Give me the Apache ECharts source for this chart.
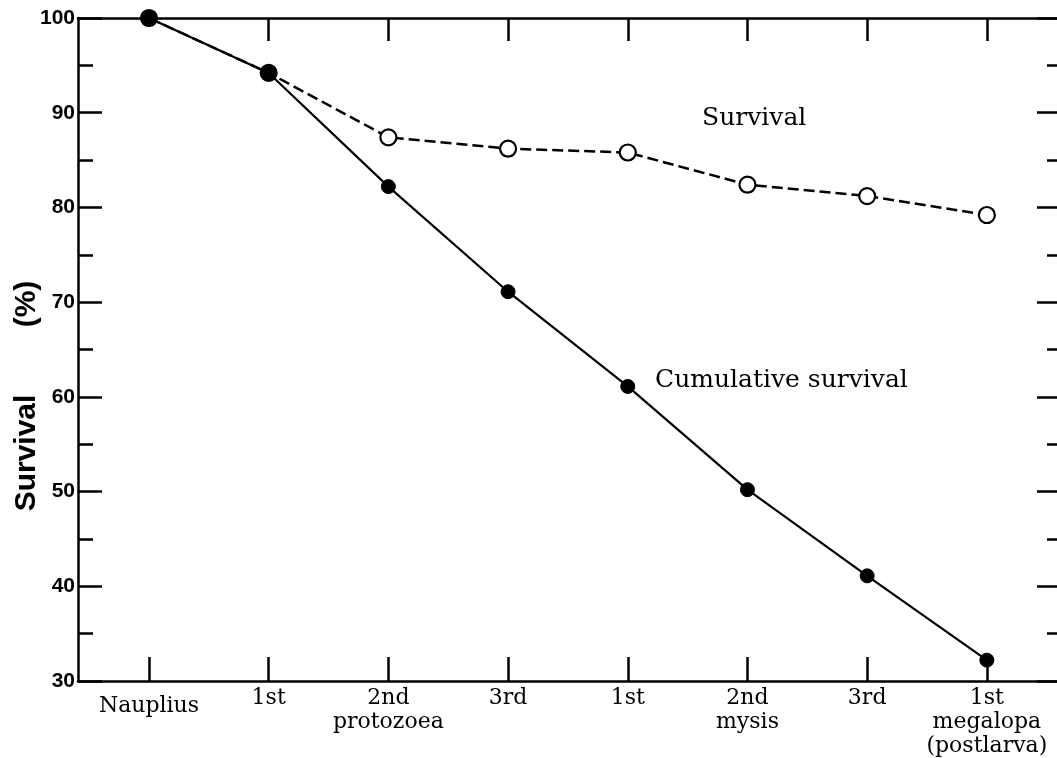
<!DOCTYPE html>
<html>
<head>
<meta charset="utf-8">
<script src="https://cdn.jsdelivr.net/npm/echarts@6/dist/echarts.min.js"></script>
<style>
html,body{margin:0;padding:0;background:#fff;}
#chart{width:1057px;height:758px;}
</style>
</head>
<body>
<div id="chart"></div>
<script>
// ---- data ----
const stages = ["Nauplius", "1st", "2nd\nprotozoea", "3rd", "1st", "2nd\nmysis", "3rd", "1st\nmegalopa\n(postlarva)"];
const stageIndex = [0, 1, 2, 3, 4, 5, 6, 7];
const survival = [100, 94.2, 87.4, 86.2, 85.8, 82.4, 81.2, 79.2];
const cumulativeSurvival = [100, 94.2, 82.2, 71.1, 61.1, 50.2, 41.1, 32.2];
const yTicks = [30, 40, 50, 60, 70, 80, 90, 100];

const XMIN = -0.593, XMAX = 7.586;
const YMIN = yTicks[0], YMAX = yTicks[yTicks.length - 1];
const black = '#000';
const chart = echarts.init(document.getElementById('chart'), null, {renderer: 'canvas'});

const pts = arr => stageIndex.map((x, i) => [x, arr[i]]);

function tickAxis(pos, interval, len, showLine, showLabel) {
  return {
    type: 'value', position: pos, min: YMIN, max: YMAX, interval: interval,
    axisLine: {show: showLine, onZero: false, lineStyle: {color: black, width: 2.5}},
    axisTick: {show: true, inside: true, length: len, lineStyle: {color: black, width: 2.5}},
    minorTick: {show: false},
    axisLabel: {show: showLabel, margin: 3, color: black, fontFamily: 'Liberation Sans', fontWeight: 'bold', fontSize: 21},
    splitLine: {show: false}, minorSplitLine: {show: false}
  };
}

const option = {
  animation: false,
  backgroundColor: '#fff',
  grid: {left: 78, right: 0, top: 18, bottom: 77, containLabel: false},
  xAxis: [
    {
      type: 'value', position: 'bottom', min: XMIN, max: XMAX,
      axisLine: {show: true, onZero: false, lineStyle: {color: black, width: 2.5}},
      axisTick: {show: true, inside: true, length: 24, customValues: stageIndex, lineStyle: {color: black, width: 2.5}},
      axisLabel: {
        show: true, customValues: stageIndex, margin: 5,
        color: black, fontFamily: 'DejaVu Serif', fontSize: 22, lineHeight: 24,
        formatter: v => {
          const s = stages[Math.round(v)];
          return Math.round(v) === 0 ? '{n|' + s + '}' : s;
        },
        rich: {n: {fontFamily: 'DejaVu Serif', fontSize: 22, lineHeight: 24, padding: [16, 0, 0, 0], color: black}}
      },
      splitLine: {show: false}
    },
    {
      type: 'value', position: 'top', min: XMIN, max: XMAX,
      axisLine: {show: true, onZero: false, lineStyle: {color: black, width: 2.5}},
      axisTick: {show: true, inside: true, length: 23, customValues: stageIndex.slice(1), lineStyle: {color: black, width: 2.5}},
      axisLabel: {show: false},
      splitLine: {show: false}
    }
  ],
  yAxis: [
    tickAxis('left', 10, 24, true, true),
    tickAxis('right', 10, 20, false, false),
    tickAxis('left', 5, 15, false, false),
    tickAxis('right', 5, 10, false, false)
  ],
  graphic: [
    {type: 'text', left: 702, top: 106, style: {text: 'Survival', fontFamily: 'DejaVu Serif', fontSize: 25, fill: black}},
    {type: 'text', left: 655, top: 368, style: {text: 'Cumulative survival', fontFamily: 'DejaVu Serif', fontSize: 25, fill: black}},
    {type: 'text', x: 27, y: 453, rotation: Math.PI / 2,
      style: {text: 'Survival', fontFamily: 'Liberation Sans', fontWeight: 'bold', fontSize: 30, fill: black, align: 'center', verticalAlign: 'middle'}},
    {type: 'text', x: 27, y: 304, rotation: Math.PI / 2,
      style: {text: '(%)', fontFamily: 'Liberation Sans', fontWeight: 'bold', fontSize: 30, fill: black, align: 'center', verticalAlign: 'middle'}}
  ],
  series: [
    {
      name: 'Survival', type: 'line', xAxisIndex: 0, yAxisIndex: 0,
      data: pts(survival),
      symbol: 'circle', symbolSize: 16,
      itemStyle: {color: '#fff', borderColor: black, borderWidth: 2.2},
      lineStyle: {color: black, width: 2.5, type: [11, 5]},
      z: 2
    },
    {
      name: 'Cumulative survival', type: 'line', xAxisIndex: 0, yAxisIndex: 0,
      data: pts(cumulativeSurvival),
      symbol: 'circle', symbolSize: 14,
      itemStyle: {color: black, borderColor: black, borderWidth: 1},
      lineStyle: {color: black, width: 2.2},
      z: 3
    }
  ]
};
chart.setOption(option);
</script>
</body>
</html>
